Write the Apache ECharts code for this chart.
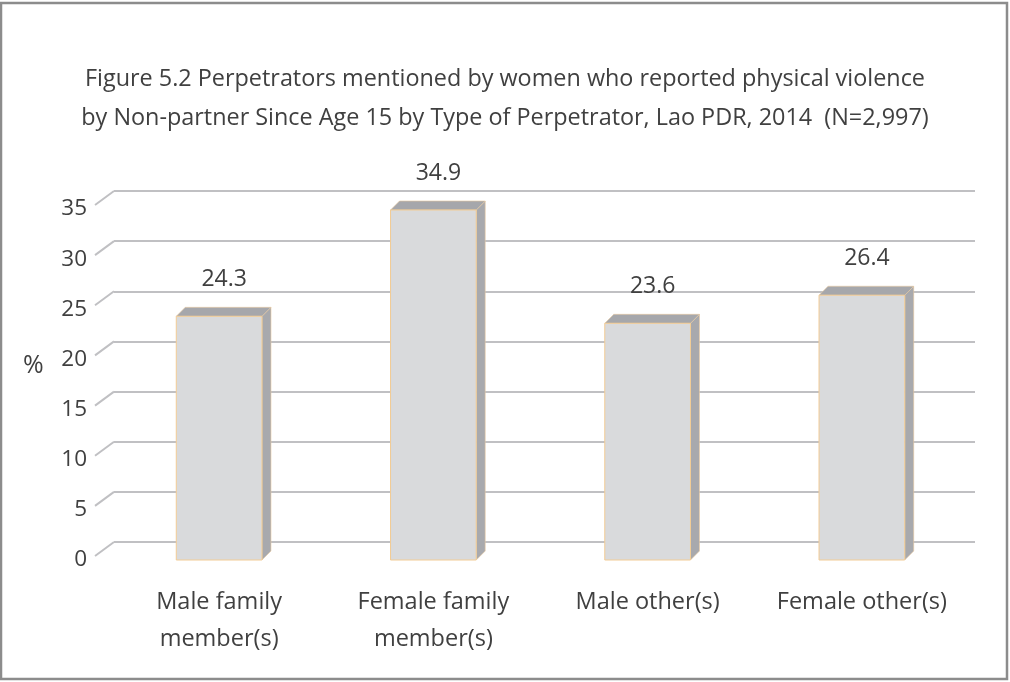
<!DOCTYPE html>
<html>
<head>
<meta charset="utf-8">
<script src="https://cdn.jsdelivr.net/npm/echarts@6/dist/echarts.min.js"></script>
<style>
html, body { margin: 0; padding: 0; background: #fff; }
#chart { width: 1010px; height: 682px; }
</style>
</head>
<body>
<div id="chart"></div>
<script>
// data
var categories = ['Male family\nmember(s)', 'Female family\nmember(s)', 'Male other(s)', 'Female other(s)'];
var values = [24.3, 34.9, 23.6, 26.4];
var yTicks = [0, 5, 10, 15, 20, 25, 30, 35];

var font = 'Open Sans';
var textColor = '#404040';
var depth = 9;       // bar depth in px
var wallDx = 19, wallDy = 14;

var chart = echarts.init(document.getElementById('chart'));

var option = {
    animation: false,
    backgroundColor: '#fff',
    textStyle: { fontFamily: font },
    title: {
        text: 'Figure 5.2 Perpetrators mentioned by women who reported physical violence\nby Non-partner Since Age 15 by Type of Perpetrator, Lao PDR, 2014  (N=2,997)',
        left: 'center',
        top: 55,
        textStyle: { fontFamily: font, fontSize: 23.4, fontWeight: 'normal', color: textColor, lineHeight: 39 }
    },
    graphic: [
        { type: 'rect', shape: { x: 1, y: 3, width: 1006, height: 676 },
          style: { fill: null, stroke: '#8c8c8c', lineWidth: 2.5 }, silent: true },
        { type: 'text', x: 23, y: 366,
          style: { text: '%', font: '25px "Open Sans"', fill: textColor, verticalAlign: 'middle' } }
    ],
    grid: [
        // back wall
        { left: 114, right: 35, top: 191, bottom: 140 },
        // front plane of the bars
        { left: 112, right: 41, top: 209, bottom: 122 }
    ],
    xAxis: [
        { gridIndex: 0, type: 'category', data: categories, show: false },
        { gridIndex: 1, type: 'category', data: categories,
          axisLine: { show: false }, axisTick: { show: false },
          axisLabel: { fontFamily: font, fontSize: 23.5, color: textColor, lineHeight: 37, margin: 24, interval: 0 } }
    ],
    yAxis: [
        { gridIndex: 0, type: 'value', min: 0, max: 35, interval: 5,
          axisLabel: { show: false }, axisLine: { show: false }, axisTick: { show: false },
          splitLine: { lineStyle: { color: '#c0c0c3', width: 2 } } },
        { gridIndex: 1, type: 'value', min: 0, max: 35, interval: 5,
          axisLine: { show: false }, axisTick: { show: false }, splitLine: { show: false },
          axisLabel: { fontFamily: font, fontSize: 22.5, color: textColor, margin: 25 } }
    ],
    series: [
        {
            // slanted floor/wall connectors at the left of each gridline
            type: 'custom',
            xAxisIndex: 0, yAxisIndex: 0,
            data: yTicks.map(function (v) { return [0, v]; }),
            silent: true,
            renderItem: function (params, api) {
                var y = api.coord([0, api.value(1)])[1];
                var x = params.coordSys.x;
                return {
                    type: 'line',
                    shape: { x1: x - wallDx, y1: y + wallDy, x2: x, y2: y },
                    style: { stroke: '#c0c0c3', lineWidth: 2 }
                };
            }
        },
        {
            type: 'custom',
            xAxisIndex: 1, yAxisIndex: 1,
            data: values.map(function (v, i) { return [i, v]; }),
            renderItem: function (params, api) {
                var top = api.coord([api.value(0), api.value(1)]);
                var base = api.coord([api.value(0), 0]);
                var band = api.size([1, 0])[0];
                var w = band * 0.4;
                var l = top[0] - w / 2, r = top[0] + w / 2;
                var t = top[1], b = base[1];
                return {
                    type: 'group',
                    children: [
                        { type: 'polygon',
                          shape: { points: [[r, t], [r + depth, t - depth], [r + depth, b - depth], [r, b]] },
                          style: { fill: '#a8a9ad', stroke: '#e9c9a0', lineWidth: 0.6 } },
                        { type: 'polygon',
                          shape: { points: [[l, t], [l + depth, t - depth], [r + depth, t - depth], [r, t]] },
                          style: { fill: '#a6a7ab', stroke: '#e9c9a0', lineWidth: 0.6 } },
                        { type: 'rect',
                          shape: { x: l, y: t, width: w, height: b - t },
                          style: { fill: '#d9dadc', stroke: '#f2cc95', lineWidth: 1 } },
                        { type: 'text',
                          x: top[0] + 5, y: t - 37,
                          style: { text: api.value(1).toFixed(1), fontFamily: font, fontSize: 23,
                                   fill: textColor, align: 'center', verticalAlign: 'middle' } }
                    ]
                };
            }
        }
    ]
};

chart.setOption(option);
</script>
</body>
</html>
